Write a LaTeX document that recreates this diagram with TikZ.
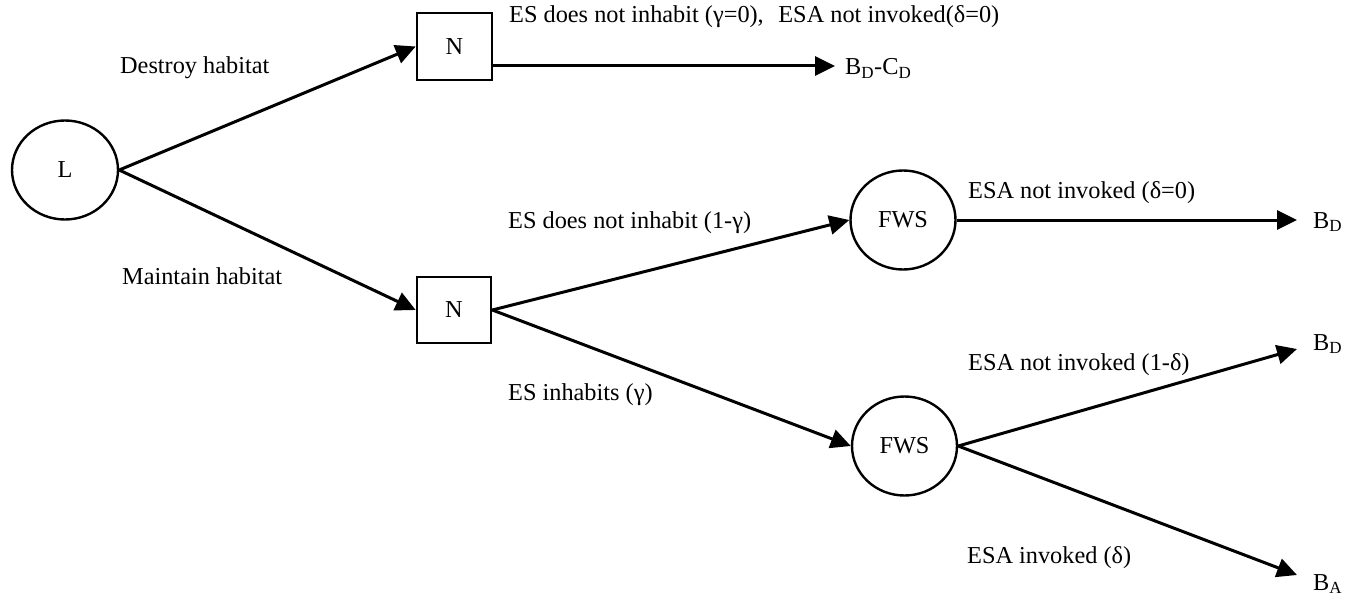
\documentclass[tikz,border=0pt]{standalone}
\usepackage{fontspec}
\setmainfont{Liberation Serif}
\usetikzlibrary{arrows.meta,shapes.geometric}
\begin{document}
\begin{tikzpicture}[x=1pt,y=-1pt,
  every node/.style={font=\fontsize{24.3}{29}\selectfont, inner sep=0pt},
  chance/.style={draw, ellipse, line width=2.4pt, minimum width=105pt, minimum height=99pt},
  decbox/.style={draw, rectangle, line width=2.6pt, minimum width=74pt, minimum height=66pt},
  conn/.style={line width=3pt, -{Triangle[length=20pt,width=19pt]}},
  lbl/.style={anchor=base west}
]
\useasboundingbox (0,0) rectangle (1346,599);

% decision / chance nodes
\node[chance, minimum width=106pt, minimum height=99pt] (L) at (65,170) {L};
\node[decbox, minimum width=75pt, minimum height=67pt] (N1) at (454.5,46.5) {N};
\node[decbox] (N2) at (454,310) {N};
\node[chance] (F1) at (903,220) {FWS};
\node[chance] (F2) at (904.5,446) {FWS};

% free ends
\coordinate (t1) at (835,66);
\coordinate (t2) at (1297,220);
\coordinate (t3) at (1297,349);
\coordinate (t4) at (1297,575);

% outcome labels
\node[lbl] (o1) at (845,75) {B\textsubscript{D}-C\textsubscript{D}};
\node[lbl] (o2) at (1313,228) {B\textsubscript{D}};
\node[lbl] (o3) at (1313,350) {B\textsubscript{D}};
\node[lbl] (o4) at (1313,590) {B\textsubscript{A}};

% connectors
\draw[conn] (L.east) -- (N1.west);
\draw[conn] (L.east) -- (N2.west);
\draw[conn] (N1.east |- t1) -- (t1);
\draw[conn] (N2.east) -- (F1.west);
\draw[conn] (N2.east) -- (F2.west);
\draw[conn] (F1.east) -- (t2);
\draw[conn] (F2.east) -- (t3);
\draw[conn] (F2.east) -- (t4);

% branch labels
\node[lbl] (l1) at (120,74) {Destroy habitat};
\node[lbl] (l2) at (122,284) {Maintain habitat};
\node[lbl] (l3) at (509,23) {ES does not inhabit (γ=0),\hspace{0.35em} ESA not invoked(δ=0)};
\node[lbl] (l4) at (508,228) {ES does not inhabit (1-γ)};
\node[lbl] (l5) at (508,400) {ES inhabits (γ)};
\node[lbl] (l6) at (968,198) {ESA not invoked (δ=0)};
\node[lbl] (l7) at (968,370) {ESA not invoked (1-δ)};
\node[lbl] (l8) at (967,563) {ESA invoked (δ)};
\end{tikzpicture}
\end{document}
